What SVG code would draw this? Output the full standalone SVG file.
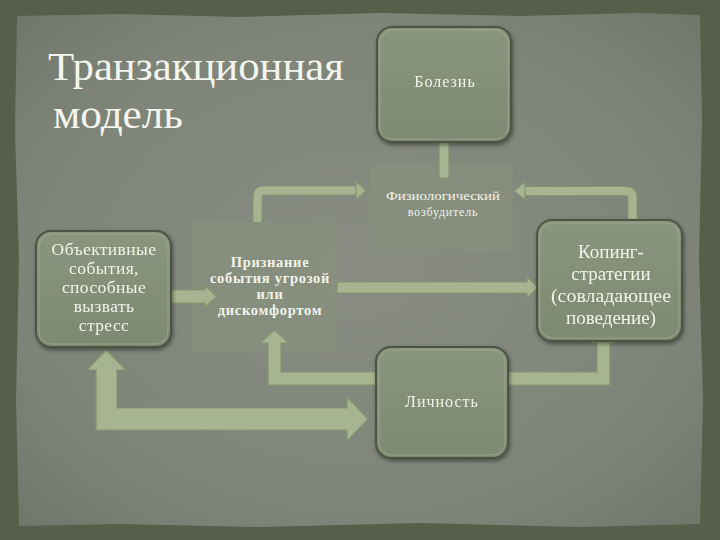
<svg xmlns="http://www.w3.org/2000/svg" width="720" height="540" viewBox="0 0 720 540">
<defs>
<radialGradient id="paper" cx="50%" cy="50%" r="70%">
<stop offset="0" stop-color="#888c82"/>
<stop offset="0.7" stop-color="#7f8479"/>
<stop offset="1" stop-color="#70776a"/>
</radialGradient>
<linearGradient id="box" x1="0" y1="0" x2="0" y2="1">
<stop offset="0" stop-color="#8a957e"/>
<stop offset="1" stop-color="#7e8972"/>
</linearGradient>
<filter id="sh" x="-10%" y="-10%" width="130%" height="130%">
<feGaussianBlur in="SourceAlpha" stdDeviation="2"/>
<feOffset dx="1" dy="2"/>
<feComponentTransfer><feFuncA type="linear" slope="0.45"/></feComponentTransfer>
<feMerge><feMergeNode/><feMergeNode in="SourceGraphic"/></feMerge>
</filter>
</defs>
<style>
.node{fill:url(#box);stroke:#4b5443;stroke-width:2}
.hl{fill:none;stroke:#a9b39c;stroke-width:1;opacity:0.6}
.area{fill:#87907d;opacity:0.65}
.t{font-family:"Liberation Serif","DejaVu Serif",serif;fill:#f1f3ea;text-anchor:middle}
.b{font-weight:bold;font-size:14.5px;letter-spacing:0.7px}
.title{font-family:"Liberation Serif","DejaVu Serif",serif;fill:#f3f5ee;font-size:40px}
.arrow{fill:#a7b491;stroke:#87936f;stroke-width:1.2}
.sarrow{fill:none;stroke:#a7b491;stroke-width:8}
.sarrowo{fill:none;stroke:#87936f;stroke-width:10}
</style>
<rect x="0" y="0" width="720" height="540" fill="#555f4a"/>
<path d="M17 16 L120 14 L240 17 L380 13 L520 16 L640 13 L700 15 L702 120 L699 260 L703 400 L700 524 L580 527 L420 523 L260 527 L120 524 L19 526 L16 400 L19 260 L15 130 Z" fill="url(#paper)"/>
<g id="title">
<text class="title" x="48" y="80" textLength="296" lengthAdjust="spacingAndGlyphs">Транзакционная</text>
<text class="title" x="53" y="128" textLength="130" lengthAdjust="spacingAndGlyphs">модель</text>
</g>
<g id="fiz">
<rect class="area" x="370" y="162" width="143" height="88"/>
<text class="t" x="443" y="200" font-size="12" textLength="114" lengthAdjust="spacingAndGlyphs">Физиологический</text>
<text class="t" x="443" y="216" font-size="12" letter-spacing="0.8">возбудитель</text>
</g>
<g id="priz">
<rect class="area" x="192" y="222" width="145" height="130"/>
<text class="t b" x="270" y="267">Признание</text>
<text class="t b" x="270" y="283">события угрозой</text>
<text class="t b" x="270" y="299">или</text>
<text class="t b" x="270" y="315">дискомфортом</text>
</g>
<g id="connectors">
<polygon class="arrow" points="444,113 453,123 449,123 449,178 439,178 439,123 435,123"/>
<path class="sarrowo" d="M257.5 222 V197 Q257.5 190.5 264 190.5 H357"/>
<path class="sarrow" d="M257.5 222 V197 Q257.5 190.5 264 190.5 H357"/>
<polygon class="arrow" points="356,181 366,190.5 356,200"/>
<path class="sarrowo" d="M632.5 222 V198 Q632.5 191 625 191 H524"/>
<path class="sarrow" d="M632.5 222 V198 Q632.5 191 625 191 H524"/>
<polygon class="arrow" points="525,182 514,191 525,200"/>
<polygon class="arrow" points="162,290 205,290 205,286 217,296.5 205,307 205,303 162,303"/>
<polygon class="arrow" points="337,282 527,282 527,277 538,287.5 527,298 527,293 337,293"/>
<polygon class="arrow" points="383,372 281,372 281,343 289,343 274.5,330 260,343 268,343 268,385 383,385"/>
<polygon class="arrow" points="492,372 597,372 597,343 590,343 603.5,330 617,343 610,343 610,385 492,385"/>
<polygon class="arrow" points="106,350 126,370 117,370 117,408 347,408 347,397 368,419 347,441 347,430 96,430 96,370 87,370"/>
</g>
<g id="bolezn" filter="url(#sh)">
<rect class="node" x="377" y="27" width="134" height="115" rx="15"/>
<rect class="hl" x="380" y="30" width="128" height="109" rx="13"/>
<text class="t" x="445" y="87" font-size="16" letter-spacing="1">Болезнь</text>
</g>
<g id="obj" filter="url(#sh)">
<rect class="node" x="36" y="231" width="135" height="116" rx="15"/>
<rect class="hl" x="39" y="234" width="129" height="110" rx="13"/>
<text class="t" x="104" y="255" font-size="17.5" letter-spacing="0.4">Объективные</text>
<text class="t" x="104" y="274" font-size="17.5" letter-spacing="0.4">события,</text>
<text class="t" x="104" y="293" font-size="17.5" letter-spacing="0.4">способные</text>
<text class="t" x="104" y="312" font-size="17.5" letter-spacing="0.4">вызвать</text>
<text class="t" x="104" y="331" font-size="17.5" letter-spacing="0.4">стресс</text>
</g>
<g id="koping" filter="url(#sh)">
<rect class="node" x="537" y="220" width="145" height="121" rx="15"/>
<rect class="hl" x="540" y="223" width="139" height="115" rx="13"/>
<text class="t" x="611" y="258" font-size="19">Копинг-</text>
<text class="t" x="611" y="280" font-size="19">стратегии</text>
<text class="t" x="611" y="302" font-size="19" textLength="120" lengthAdjust="spacingAndGlyphs">(совладающее</text>
<text class="t" x="611" y="324" font-size="19">поведение)</text>
</g>
<g id="lichnost" filter="url(#sh)">
<rect class="node" x="376" y="347" width="132" height="111" rx="15"/>
<rect class="hl" x="379" y="350" width="126" height="105" rx="13"/>
<text class="t" x="442" y="407" font-size="16" letter-spacing="1">Личность</text>
</g>
</svg>
